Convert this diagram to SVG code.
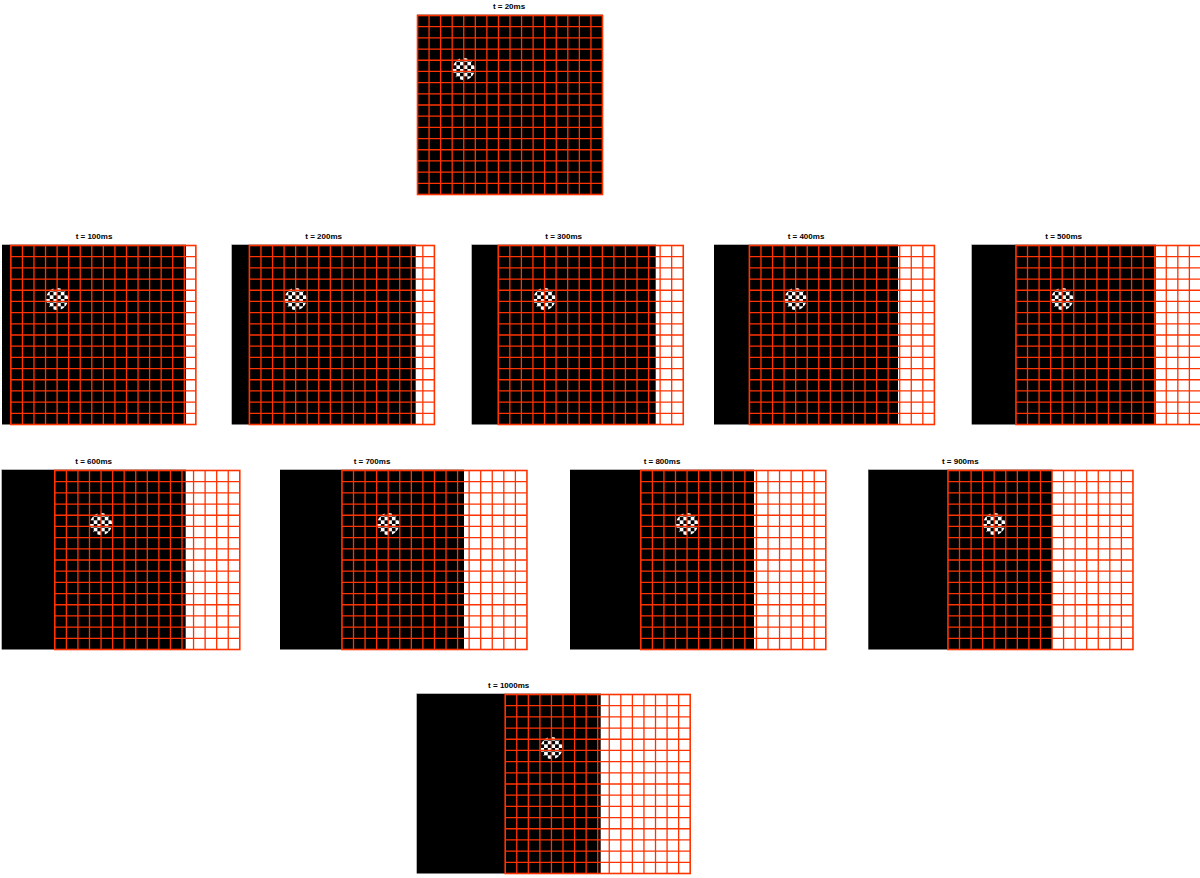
<svg xmlns="http://www.w3.org/2000/svg" xmlns:xlink="http://www.w3.org/1999/xlink" width="1200" height="878" viewBox="0 0 1200 878">
<style>
.bg{fill:#000}
.top{stroke:#b4b4b4;stroke-width:1}
.grid{fill:none;stroke:#ff3300;stroke-width:1.3}
.frame{fill:none;stroke:#ff3300;stroke-width:1.6}
.t{font-family:"Liberation Sans",Arial,Helvetica,sans-serif;font-size:8px;font-weight:bold;fill:#000;text-anchor:middle}
</style>
<defs>
<pattern id="chk" x="-11" y="-11" width="7.3333" height="7.3333" patternUnits="userSpaceOnUse">
<rect width="7.3333" height="7.3333" fill="#fff"/>
<rect width="3.6667" height="3.6667" fill="#000"/>
<rect x="3.6667" y="3.6667" width="3.6667" height="3.6667" fill="#000"/>
</pattern>
<g id="checker"><circle r="11" fill="url(#chk)"/></g>
<g id="grid">
<path class="grid" d="M11.5625 1V180M23.125 1V180M34.6875 1V180M46.25 1V180M57.8125 1V180M69.375 1V180M80.9375 1V180M92.5 1V180M104.0625 1V180M115.625 1V180M127.1875 1V180M138.75 1V180M150.3125 1V180M161.875 1V180M173.4375 1V180M0 12.1875H185M0 23.375H185M0 34.5625H185M0 45.75H185M0 56.9375H185M0 68.125H185M0 79.3125H185M0 90.5H185M0 101.6875H185M0 112.875H185M0 124.0625H185M0 135.25H185M0 146.4375H185M0 157.625H185M0 168.8125H185"/>
<rect class="frame" x="0" y="1" width="185" height="179"/>
</g>
<g id="axes">
<rect class="bg" width="184" height="180"/>
<line class="top" x1="0" y1="0" x2="184" y2="0"/>
</g>
</defs>

<g id="panel-t20" transform="translate(417,14.5)">
<rect class="bg" width="185.5" height="180"/>
<line class="top" x1="0" y1="0" x2="185.5" y2="0"/>
<use xlink:href="#checker" x="46.75" y="54.5"/>
<use xlink:href="#grid" x="0.5"/>
<text class="t" x="92" y="-6">t = 20ms</text>
</g>

<g id="panel-t100" transform="translate(2,244.5)">
<use xlink:href="#axes"/>
<use xlink:href="#checker" x="55.1" y="54.5"/>
<use xlink:href="#grid" x="8.85"/>
<text class="t" x="92" y="-5.5">t = 100ms</text>
</g>

<g id="panel-t200" transform="translate(231.7,244.5)">
<use xlink:href="#axes"/>
<use xlink:href="#checker" x="63.95" y="54.5"/>
<use xlink:href="#grid" x="17.7"/>
<text class="t" x="92" y="-5.5">t = 200ms</text>
</g>

<g id="panel-t300" transform="translate(471.7,244.5)">
<use xlink:href="#axes"/>
<use xlink:href="#checker" x="72.8" y="54.5"/>
<use xlink:href="#grid" x="26.55"/>
<text class="t" x="92" y="-5.5">t = 300ms</text>
</g>

<g id="panel-t400" transform="translate(714,244.5)">
<use xlink:href="#axes"/>
<use xlink:href="#checker" x="81.65" y="54.5"/>
<use xlink:href="#grid" x="35.4"/>
<text class="t" x="92" y="-5.5">t = 400ms</text>
</g>

<g id="panel-t500" transform="translate(971.7,244.5)">
<use xlink:href="#axes"/>
<use xlink:href="#checker" x="90.5" y="54.5"/>
<use xlink:href="#grid" x="44.25"/>
<text class="t" x="92" y="-5.5">t = 500ms</text>
</g>

<g id="panel-t600" transform="translate(1.7,469.5)">
<use xlink:href="#axes"/>
<use xlink:href="#checker" x="99.35" y="54.5"/>
<use xlink:href="#grid" x="53.1"/>
<text class="t" x="92" y="-5.5">t = 600ms</text>
</g>

<g id="panel-t700" transform="translate(280,469.5)">
<use xlink:href="#axes"/>
<use xlink:href="#checker" x="108.2" y="54.5"/>
<use xlink:href="#grid" x="61.95"/>
<text class="t" x="92" y="-5.5">t = 700ms</text>
</g>

<g id="panel-t800" transform="translate(570,469.5)">
<use xlink:href="#axes"/>
<use xlink:href="#checker" x="117.05" y="54.5"/>
<use xlink:href="#grid" x="70.8"/>
<text class="t" x="92" y="-5.5">t = 800ms</text>
</g>

<g id="panel-t900" transform="translate(868.3,469.5)">
<use xlink:href="#axes"/>
<use xlink:href="#checker" x="125.9" y="54.5"/>
<use xlink:href="#grid" x="79.65"/>
<text class="t" x="92" y="-5.5">t = 900ms</text>
</g>

<g id="panel-t1000" transform="translate(416.7,693.5)">
<use xlink:href="#axes"/>
<use xlink:href="#checker" x="134.75" y="54.5"/>
<use xlink:href="#grid" x="88.5"/>
<text class="t" x="92" y="-5.5">t = 1000ms</text>
</g>
</svg>
